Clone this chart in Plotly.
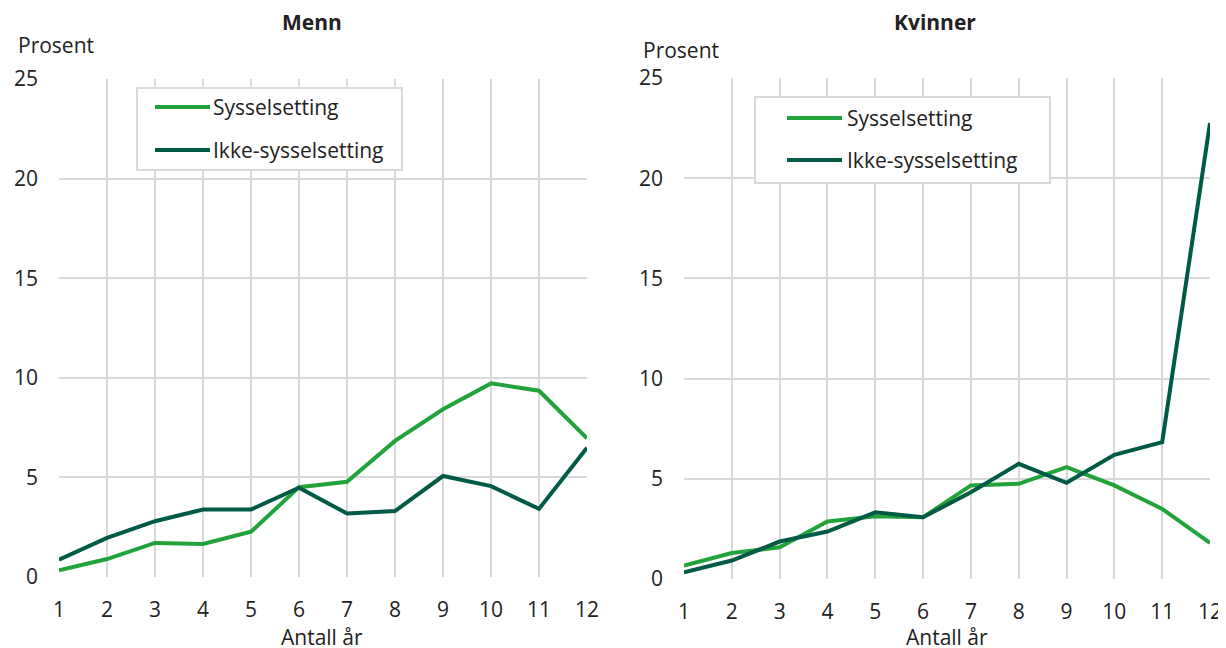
import plotly.graph_objects as go

# data
years = list(range(1, 13))
menn_syss = [0.34, 0.9, 1.71, 1.66, 2.27, 4.51, 4.78, 6.83, 8.42, 9.72, 9.35, 6.96]
menn_ikke = [0.87, 1.96, 2.8, 3.39, 3.39, 4.48, 3.19, 3.31, 5.07, 4.56, 3.42, 6.49]
kvinner_syss = [0.67, 1.3, 1.58, 2.87, 3.13, 3.08, 4.67, 4.75, 5.58, 4.67, 3.5, 1.8]
kvinner_ikke = [0.33, 0.92, 1.87, 2.37, 3.33, 3.08, 4.33, 5.75, 4.8, 6.2, 6.83, 22.75]
series_names = ["Sysselsetting", "Ikke-sysselsetting"]

GREEN = "#22a23a"
DARK = "#005a45"
GRID = "#d9d9d9"
TXT = "#222222"
FONT = "Open Sans"
FS = 21

W, H = 1226, 648
OFF = 8  # page body margin: the figure starts 8px in from the top-left corner

def px_x(v):
    return (v - OFF) / W

def px_y(v):
    return 1 - (v - OFF) / H

fig = go.Figure()

panels = [
    ("x", "y", menn_syss, menn_ikke),
    ("x2", "y2", kvinner_syss, kvinner_ikke),
]
for xa, ya, syss, ikke in panels:
    fig.add_trace(go.Scatter(x=years, y=syss, mode="lines", name=series_names[0],
                             line=dict(color=GREEN, width=4), xaxis=xa, yaxis=ya))
    fig.add_trace(go.Scatter(x=years, y=ikke, mode="lines", name=series_names[1],
                             line=dict(color=DARK, width=4), xaxis=xa, yaxis=ya))

xcommon = dict(range=[1, 12], tickvals=years, showgrid=True, gridcolor=GRID, gridwidth=2,
               zeroline=False, showline=False, ticks="", automargin=False,
               tickfont=dict(size=FS, color=TXT), ticklabelstandoff=18, fixedrange=True)
ycommon = dict(range=[0, 25], tickvals=[0, 5, 10, 15, 20, 25], showgrid=True, gridcolor=GRID,
               gridwidth=2, zeroline=False, showline=False, ticks="", automargin=False,
               tickfont=dict(size=FS, color=TXT), ticklabelstandoff=20, fixedrange=True)

fig.update_layout(
    width=W, height=H,
    margin=dict(l=0, r=0, t=0, b=0, autoexpand=False),
    paper_bgcolor="white", plot_bgcolor="white",
    font=dict(family=FONT, color=TXT),
    xaxis=dict(domain=[px_x(59), px_x(587)], anchor="y", **xcommon),
    yaxis=dict(domain=[px_y(577), px_y(79)], anchor="x", **ycommon),
    xaxis2=dict(domain=[px_x(684), px_x(1210)], anchor="y2", **xcommon),
    yaxis2=dict(domain=[px_y(579), px_y(78)], anchor="x2", **ycommon),
    showlegend=False,
)

# boxed legends drawn inside each panel
legends = [
    dict(box=(137, 88, 402, 170), line_x=(155, 210), rows=(107, 150), text_x=211),
    dict(box=(755, 97, 1050, 183), line_x=(787, 842), rows=(118, 160), text_x=845),
]
for lg in legends:
    x0, y0, x1, y1 = lg["box"]
    fig.add_shape(type="rect", xref="paper", yref="paper",
                  x0=px_x(x0), x1=px_x(x1), y0=px_y(y1), y1=px_y(y0),
                  line=dict(color=GRID, width=2), fillcolor="white", layer="above")
    for name, col, ry in zip(series_names, [GREEN, DARK], lg["rows"]):
        fig.add_shape(type="line", xref="paper", yref="paper",
                      x0=px_x(lg["line_x"][0]), x1=px_x(lg["line_x"][1]),
                      y0=px_y(ry), y1=px_y(ry), line=dict(color=col, width=4), layer="above")
        fig.add_annotation(text=name, x=px_x(lg["text_x"]), y=px_y(ry), xref="paper", yref="paper",
                           xanchor="left", yanchor="middle", showarrow=False,
                           font=dict(size=FS, family=FONT, color=TXT))

annots = [
    ("<b>Menn</b>", 312, 22, "center", 21),
    ("<b>Kvinner</b>", 935, 22, "center", 21),
    ("Prosent", 16, 45, "left", FS),
    ("Prosent", 641, 50, "left", FS),
    ("Antall år", 322, 637, "center", FS),
    ("Antall år", 947, 637, "center", FS),
]
for txt, xx, yy, anc, fs in annots:
    fig.add_annotation(text=txt, x=px_x(xx), y=px_y(yy), xref="paper", yref="paper",
                       xanchor=anc, yanchor="middle", showarrow=False,
                       font=dict(size=fs, family=FONT, color=TXT))

fig.write_html("out.html")
